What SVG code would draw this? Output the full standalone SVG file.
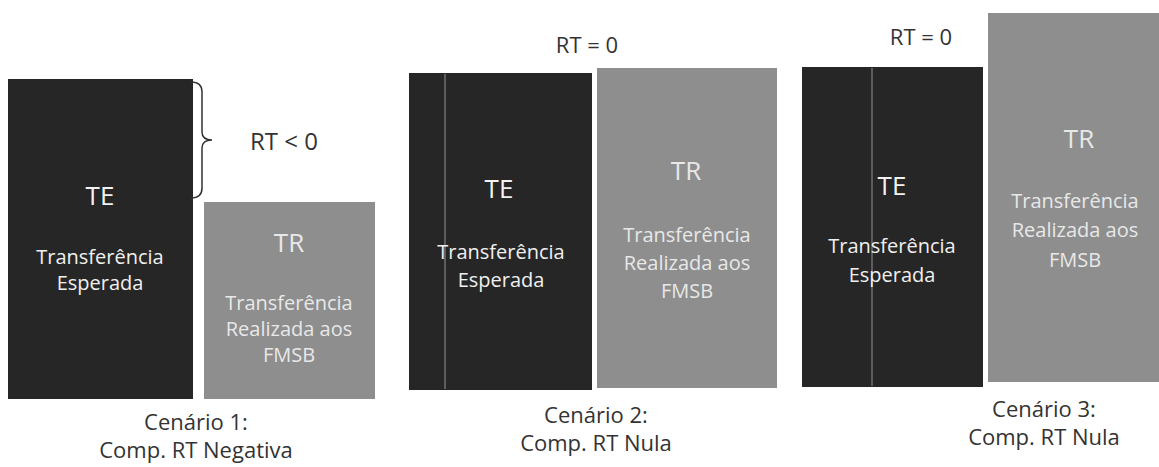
<svg xmlns="http://www.w3.org/2000/svg" width="1159" height="467" viewBox="0 0 1159 467">
<style>
.te{fill:#262626}
.tr{fill:#8e8e8e}
.big{font-family:"Open Sans","Liberation Sans",sans-serif;font-size:26px;fill:#f2f2f2;text-anchor:middle}
.sm{font-family:"Open Sans","Liberation Sans",sans-serif;font-size:20px;fill:#f0f0f0;text-anchor:middle}
.trt{fill:#e8e8e8}
.cap{font-family:"Open Sans","Liberation Sans",sans-serif;font-size:22px;fill:#333;text-anchor:middle}
.lbl{font-family:"Open Sans","Liberation Sans",sans-serif;font-size:22px;fill:#333;text-anchor:middle}
.sep{stroke:#707070;stroke-width:1.5}
</style>
<rect width="1159" height="467" fill="#fff"/>
<g id="te1">
<rect class="te" x="8" y="79" width="185" height="320"/>
<text class="big" x="100" y="205">TE</text>
<text class="sm" x="100" y="264">Transferência</text>
<text class="sm" x="100" y="290">Esperada</text>
</g>
<g id="tr1">
<rect class="tr" x="204" y="202" width="171" height="197"/>
<text class="big trt" x="289" y="252">TR</text>
<text class="sm trt" x="289" y="310">Transferência</text>
<text class="sm trt" x="289" y="336">Realizada aos</text>
<text class="sm trt" x="289" y="362">FMSB</text>
</g>
<g id="rt1">
<path d="M191,82 Q202,82 202,92 L202,132 Q202,140 212,140 Q202,140 202,148 L202,188 Q202,198 191,198" fill="none" stroke="#333" stroke-width="1.5"/>
<text class="lbl" x="284" y="150" style="font-size:24px">RT &lt; 0</text>
</g>
<g id="te2">
<rect class="te" x="409" y="73" width="183" height="317"/>
<line class="sep" x1="445" y1="74" x2="445" y2="389"/>
<text class="big" x="499" y="198">TE</text>
<text class="sm" x="501" y="259">Transferência</text>
<text class="sm" x="501" y="287">Esperada</text>
</g>
<g id="tr2">
<rect class="tr" x="597" y="68" width="180" height="320"/>
<text class="big trt" x="686" y="180">TR</text>
<text class="sm trt" x="687" y="242">Transferência</text>
<text class="sm trt" x="687" y="270">Realizada aos</text>
<text class="sm trt" x="687" y="298">FMSB</text>
</g>
<text id="rt2" class="lbl" x="587" y="53">RT = 0</text>
<g id="te3">
<rect class="te" x="802" y="67" width="181" height="320"/>
<line class="sep" x1="872" y1="68" x2="872" y2="386"/>
<text class="big" x="892" y="195">TE</text>
<text class="sm" x="892" y="253">Transferência</text>
<text class="sm" x="892" y="282">Esperada</text>
</g>
<g id="tr3">
<rect class="tr" x="988" y="13" width="171" height="369"/>
<text class="big trt" x="1079" y="148">TR</text>
<text class="sm trt" x="1075" y="208">Transferência</text>
<text class="sm trt" x="1075" y="237">Realizada aos</text>
<text class="sm trt" x="1075" y="267">FMSB</text>
</g>
<text id="rt3" class="lbl" x="921" y="45">RT = 0</text>
<g id="cap1">
<text class="cap" x="196" y="430">Cenário 1:</text>
<text class="cap" x="196" y="458">Comp. RT Negativa</text>
</g>
<g id="cap2">
<text class="cap" x="596" y="423">Cenário 2:</text>
<text class="cap" x="596" y="451">Comp. RT Nula</text>
</g>
<g id="cap3">
<text class="cap" x="1044" y="417">Cenário 3:</text>
<text class="cap" x="1044" y="445">Comp. RT Nula</text>
</g>
</svg>
